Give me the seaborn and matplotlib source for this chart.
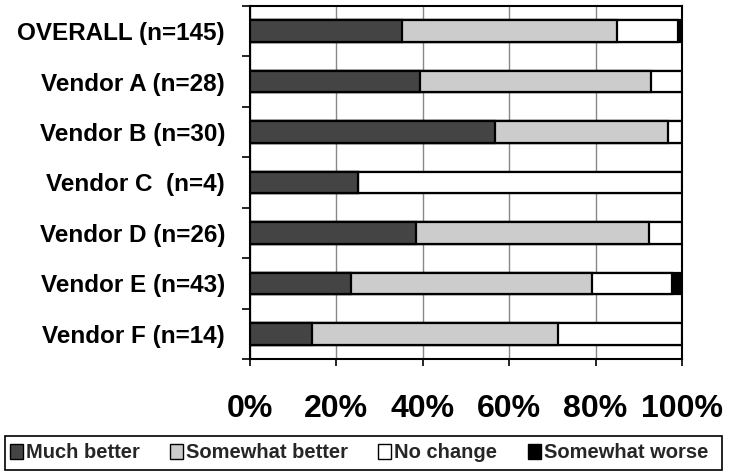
import matplotlib
matplotlib.use("Agg")
import matplotlib.pyplot as plt
import matplotlib.patches as mpatches
import seaborn as sns
import pandas as pd
import numpy as np

categories = ["OVERALL (n=145)", "Vendor A (n=28)", "Vendor B (n=30)", "Vendor C  (n=4)",
              "Vendor D (n=26)", "Vendor E (n=43)", "Vendor F (n=14)"]
much_better = [35.2, 39.3, 56.7, 25.0, 38.5, 23.3, 14.3]
somewhat_better = [49.7, 53.6, 40.0, 0.0, 53.8, 55.8, 57.1]
no_change = [14.1, 7.1, 3.3, 75.0, 7.7, 18.6, 28.6]
somewhat_worse = [1.0, 0.0, 0.0, 0.0, 0.0, 2.3, 0.0]
series_names = ["Much better", "Somewhat better", "No change", "Somewhat worse"]
colors = ["#444444", "#cccccc", "#ffffff", "#000000"]
xticks = [0, 20, 40, 60, 80, 100]

sns.set_theme(style="white")
plt.rcParams["font.family"] = ["Liberation Sans", "DejaVu Sans"]

fig = plt.figure(figsize=(7.29, 4.76), dpi=100)
ax = fig.add_axes([250/729, 1-359/476, 432/729, 353/476])

series = [much_better, somewhat_better, no_change, somewhat_worse]
cum = np.cumsum(np.array(series), axis=0)
df = pd.DataFrame({"cat": categories})
for i in range(len(series)-1, -1, -1):
    df["v"] = cum[i]
    sns.barplot(data=df, x="v", y="cat", orient="h", color=colors[i], saturation=1,
                width=0.43, edgecolor="black", linewidth=1.6, ax=ax, zorder=3)

ax.set_xlim(0, 100)
ax.set_ylim(6.5, -0.5)
ax.set_xticks(xticks)
ax.set_xticklabels([f"{t}%" for t in xticks], fontsize=23, fontweight="bold")
ax.set_yticks(range(len(categories)))
ax.set_yticklabels(categories, fontsize=17.5, fontweight="bold")
ax.set_yticks(np.arange(-0.5, 7, 1), minor=True)
ax.tick_params(axis="y", which="major", length=0, pad=18)
ax.tick_params(axis="y", which="minor", length=6, width=1.2, color="black", left=True, direction="out")
ax.tick_params(axis="x", which="major", length=5, width=1.2, color="black", bottom=True, direction="out", pad=20)
ax.set_xlabel("")
ax.set_ylabel("")
ax.grid(axis="x", color="#888888", linewidth=1, zorder=0)
ax.set_axisbelow(True)
for s in ax.spines.values():
    s.set_visible(True)
    s.set_color("black")
    s.set_linewidth(1.5)
for lbl in ax.get_yticklabels():
    lbl.set_color("black")
for lbl in ax.get_xticklabels():
    lbl.set_color("black")

# legend frame spanning the figure width
frame = mpatches.Rectangle((5/729, 6/476), 717/729, 34/476, transform=fig.transFigure,
                           facecolor="white", edgecolor="black", linewidth=1.2)
fig.patches.append(frame)
handles = [mpatches.Patch(facecolor=c, edgecolor="black", linewidth=1, label=n)
           for c, n in zip(colors, series_names)]
leg = fig.legend(handles=handles, loc="center", bbox_to_anchor=(359/729, 23/476),
                 ncol=4, frameon=False, handlelength=0.65,
                 handleheight=0.8, handletextpad=0.15, borderaxespad=0, columnspacing=1.5,
                 prop={"family": ["Liberation Sans", "DejaVu Sans"],
                       "weight": "bold", "size": 14.5})
fig.savefig("out.png", dpi=100)
